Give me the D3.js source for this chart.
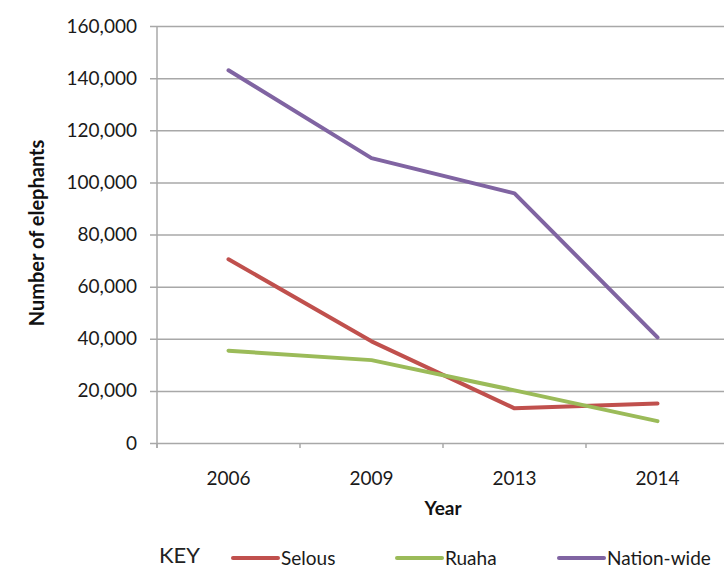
<!DOCTYPE html>
<html>
<head>
<meta charset="utf-8">
<script src="https://cdn.jsdelivr.net/npm/d3@7/dist/d3.min.js"></script>
<style>
  html, body { margin: 0; padding: 0; background: #fff; }
  svg { display: block; font-family: Lato, "Open Sans", sans-serif; }
</style>
</head>
<body>
<svg id="chart" width="724" height="570"></svg>
<script>
// Elephant counts in Tanzania by survey year
const years = ["2006", "2009", "2013", "2014"];
const selous = [70500, 39000, 13300, 15200];
const ruaha = [35400, 31800, 20200, 8400];
const nationWide = [143000, 109300, 95800, 40500];
const yTicks = [0, 20000, 40000, 60000, 80000, 100000, 120000, 140000, 160000];

const seriesNames = ["Selous", "Ruaha", "Nation-wide"];
const seriesColors = ["#c0504d", "#9bbb59", "#8064a2"];
const series = [selous, ruaha, nationWide].map((vals, i) => ({
  name: seriesNames[i], color: seriesColors[i], values: vals
}));

const svg = d3.select("#chart");
const plotLeft = 157, plotRight = 729, plotTop = 26, plotBottom = 443;

const x = d3.scalePoint().domain(years).range([plotLeft, plotRight]).padding(0.5);
const y = d3.scaleLinear().domain([0, 160000]).range([plotBottom, plotTop]);

// Horizontal gridlines with outward tick stubs and labels
const yAxis = d3.axisLeft(y)
  .tickValues(yTicks)
  .tickFormat(d3.format(","))
  .tickSizeInner(-(plotRight - plotLeft))
  .tickSizeOuter(0)
  .tickPadding(20);
const gy = svg.append("g").attr("transform", `translate(${plotLeft},0)`).call(yAxis);
gy.select(".domain").remove();
gy.selectAll(".tick line")
  .attr("x1", -7).attr("x2", plotRight - plotLeft)
  .attr("stroke", "#a8a8a8").attr("stroke-width", 1.5);
gy.selectAll(".tick text")
  .attr("font-size", 19).attr("fill", "#1a1a1a")
  .attr("font-family", "Lato, sans-serif");

// Vertical axis line
svg.append("line")
  .attr("x1", plotLeft).attr("x2", plotLeft)
  .attr("y1", y(160000)).attr("y2", plotBottom + 5)
  .attr("stroke", "#a8a8a8").attr("stroke-width", 1.5);

// Category axis: labels at point positions, ticks at band boundaries
const step = x.step();
const boundaries = d3.range(years.length + 1).map(i => plotLeft + i * step);
svg.append("g").selectAll("line").data(boundaries).join("line")
  .attr("x1", d => d).attr("x2", d => d)
  .attr("y1", plotBottom).attr("y2", plotBottom + 5)
  .attr("stroke", "#a8a8a8").attr("stroke-width", 1.5);

svg.append("g").selectAll("text").data(years).join("text")
  .attr("x", d => x(d)).attr("y", 485)
  .attr("text-anchor", "middle")
  .attr("font-size", 19).attr("fill", "#1a1a1a")
  .text(d => d);

// Axis titles
svg.append("text")
  .attr("x", 443).attr("y", 515)
  .attr("text-anchor", "middle")
  .attr("font-size", 19).attr("font-weight", "bold").attr("fill", "#111")
  .text("Year");

svg.append("text")
  .attr("transform", "translate(44,233) rotate(-90)")
  .attr("text-anchor", "middle")
  .attr("font-size", 20).attr("font-weight", "bold").attr("fill", "#111")
  .text("Number of elephants");

// Data lines
const line = d3.line()
  .x((d, i) => x(years[i]))
  .y(d => y(d));

svg.append("g").selectAll("path").data(series).join("path")
  .attr("d", d => line(d.values))
  .attr("fill", "none")
  .attr("stroke", d => d.color)
  .attr("stroke-width", 4)
  .attr("stroke-linejoin", "round")
  .attr("stroke-linecap", "round");

// Legend
svg.append("text")
  .attr("x", 159).attr("y", 563)
  .attr("font-size", 22).attr("fill", "#222")
  .text("KEY");

const legendX = [233, 397, 559];
const lg = svg.append("g").selectAll("g").data(series).join("g")
  .attr("transform", (d, i) => `translate(${legendX[i]},0)`);
lg.append("line")
  .attr("x1", 0).attr("x2", 45)
  .attr("y1", 558).attr("y2", 558)
  .attr("stroke", d => d.color).attr("stroke-width", 4)
  .attr("stroke-linecap", "round");
lg.append("text")
  .attr("x", 48).attr("y", 565)
  .attr("font-size", 19).attr("fill", "#1a1a1a")
  .text(d => d.name);
</script>
</body>
</html>
